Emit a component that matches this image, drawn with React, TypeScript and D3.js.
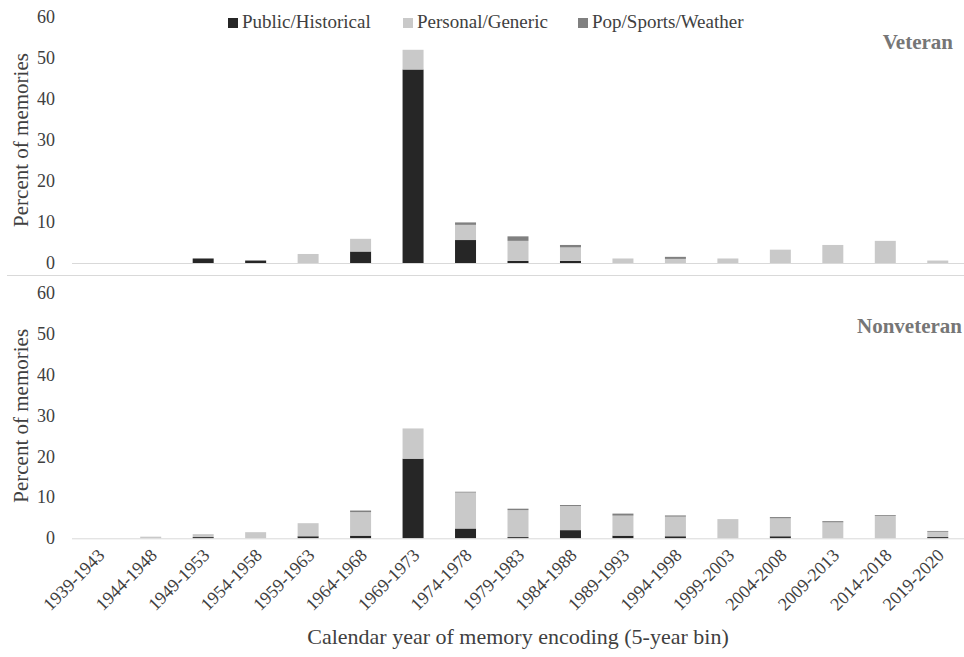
import React from "react";
import * as d3 from "d3";

const categories = [
  "1939-1943", "1944-1948", "1949-1953", "1954-1958", "1959-1963", "1964-1968",
  "1969-1973", "1974-1978", "1979-1983", "1984-1988", "1989-1993", "1994-1998",
  "1999-2003", "2004-2008", "2009-2013", "2014-2018", "2019-2020",
];
const seriesNames = ["Public/Historical", "Personal/Generic", "Pop/Sports/Weather"];
const seriesColors = ["#262626", "#c9c9c9", "#808080"];

const veteranPublic = [0, 0, 1.1, 0.6, 0, 2.8, 47.2, 5.6, 0.5, 0.5, 0, 0, 0, 0, 0, 0, 0];
const veteranPersonal = [0, 0, 0, 0, 2.2, 3.1, 4.8, 3.7, 4.9, 3.3, 1.1, 1.0, 1.1, 3.25, 4.4, 5.4, 0.6];
const veteranPop = [0, 0, 0, 0, 0, 0, 0, 0.6, 1.1, 0.6, 0, 0.5, 0, 0, 0, 0, 0];

const nonvetPublic = [0, 0, 0.3, 0, 0.5, 0.65, 19.5, 2.4, 0.3, 2.0, 0.65, 0.5, 0, 0.5, 0, 0, 0.3];
const nonvetPersonal = [0, 0.4, 0.5, 1.5, 3.2, 5.75, 7.4, 8.8, 6.6, 5.9, 4.9, 4.8, 4.7, 4.4, 3.9, 5.5, 1.3];
const nonvetPop = [0, 0, 0.1, 0, 0, 0.4, 0, 0.2, 0.35, 0.25, 0.5, 0.3, 0, 0.3, 0.3, 0.2, 0.2];

const yTicks = [0, 10, 20, 30, 40, 50, 60];

const W = 964;
const H = 657;
const FONT = `"Liberation Serif", "Times New Roman", serif`;

const x = d3.scaleBand<string>().domain(categories).range([72, 964]).paddingInner(0.6).paddingOuter(0.3);

type PanelProps = {
  label: string;
  pub: number[];
  pers: number[];
  pop: number[];
  y0: number;
  y60: number;
  labelY: number;
  labelX: number;
};

function Panel({ label, pub, pers, pop, y0, y60, labelY, labelX }: PanelProps) {
  const y = d3.scaleLinear().domain([0, 60]).range([y0, y60]);
  const rows = categories.map((c, i) => ({ cat: c, s0: pub[i], s1: pers[i], s2: pop[i] }));
  const stacked = d3.stack<any>().keys(["s0", "s1", "s2"])(rows);
  const mid = (y0 + y60) / 2;
  return (
    <g>
      {yTicks.map((t) => (
        <text key={t} x={55} y={y(t)} dy="0.33em" textAnchor="end" fontSize={18} fill="#404040" style={{ fontFamily: FONT }}>
          {t}
        </text>
      ))}
      <text
        transform={`translate(21,${mid}) rotate(-90)`}
        textAnchor="middle"
        dy="0.33em"
        fontSize={21}
        fill="#404040"
        style={{ fontFamily: FONT }}
      >
        Percent of memories
      </text>
      {stacked.map((layer, li) => (
        <g key={li} fill={seriesColors[li]}>
          {layer.map((d, i) =>
            d[1] - d[0] > 0 ? (
              <rect
                key={i}
                x={x(categories[i])}
                width={x.bandwidth()}
                y={y(d[1])}
                height={y(d[0]) - y(d[1])}
              />
            ) : null
          )}
        </g>
      ))}
      <line x1={72} x2={964} y1={y0 + 0.5} y2={y0 + 0.5} stroke="#d9d9d9" strokeWidth={1} />
      <text x={labelX} y={labelY} textAnchor="end" fontSize={21} fontWeight="bold" fill="#767676" style={{ fontFamily: FONT }}>
        {label}
      </text>
    </g>
  );
}

export default function App() {
  const legendX = [228, 403, 578];
  return (
    <div style={{ position: "absolute", left: 0, top: 0 }}>
      <svg width={W} height={H} style={{ display: "block", background: "#fff" }}>
        <rect width={W} height={H} fill="#fff" />
        <Panel label="Veteran" pub={veteranPublic} pers={veteranPersonal} pop={veteranPop} y0={263} y60={17} labelY={49} labelX={953} />
        <line x1={7} x2={964} y1={275.5} y2={275.5} stroke="#d9d9d9" strokeWidth={1} />
        <Panel label="Nonveteran" pub={nonvetPublic} pers={nonvetPersonal} pop={nonvetPop} y0={538.3} y60={293.3} labelY={333} labelX={962} />
        {seriesNames.map((n, i) => (
          <g key={n}>
            <rect x={legendX[i]} y={18} width={10} height={10} fill={seriesColors[i]} />
            <text x={legendX[i] + 14} y={28} fontSize={19} fill="#404040" style={{ fontFamily: FONT }}>
              {n}
            </text>
          </g>
        ))}
        {categories.map((c) => {
          const cx = (x(c) as number) + x.bandwidth() / 2 + 3;
          return (
            <text
              key={c}
              transform={`translate(${cx},${552}) rotate(-45)`}
              textAnchor="end"
              dy="0.35em"
              fontSize={18}
              fill="#404040"
              style={{ fontFamily: FONT }}
            >
              {c}
            </text>
          );
        })}
        <text x={518} y={644} textAnchor="middle" fontSize={22} fill="#404040" style={{ fontFamily: FONT }}>
          Calendar year of memory encoding (5-year bin)
        </text>
      </svg>
    </div>
  );
}
